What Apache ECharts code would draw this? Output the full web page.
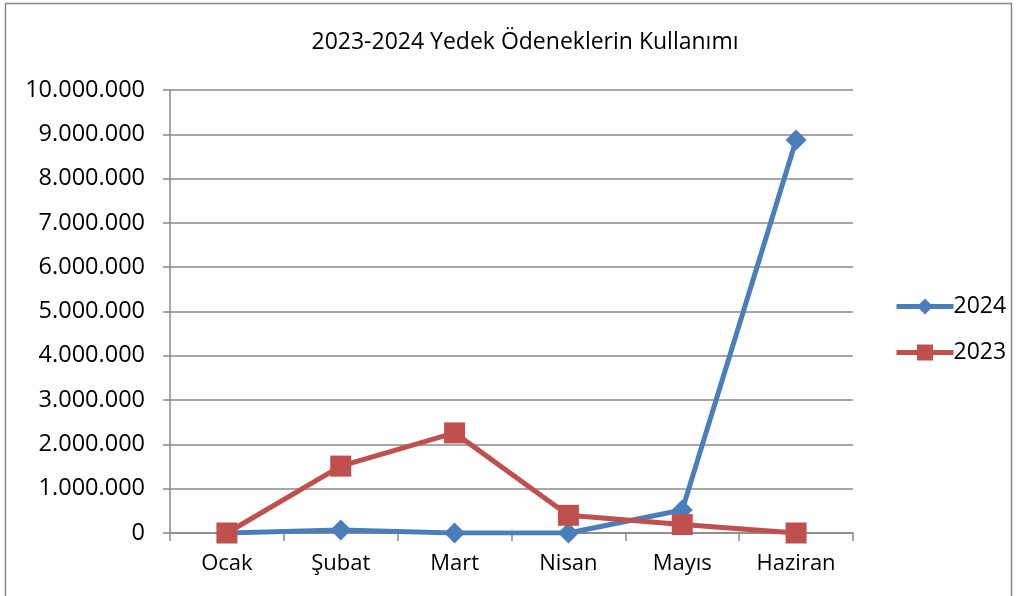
<!DOCTYPE html>
<html>
<head>
<meta charset="utf-8">
<script src="https://cdn.jsdelivr.net/npm/echarts@6/dist/echarts.min.js"></script>
<style>
html, body { margin: 0; padding: 0; background: #fff; }
#chart { width: 1017px; height: 596px; }
</style>
</head>
<body>
<div id="chart"></div>
<script>
const months = ['Ocak', 'Şubat', 'Mart', 'Nisan', 'Mayıs', 'Haziran']
const values2024 = [0, 70000, 0, 0, 520000, 8870000]
const values2023 = [0, 1510000, 2260000, 400000, 190000, 0]

const chart = echarts.init(document.getElementById('chart'))
const font = '"Open Sans", "Noto Sans", sans-serif'
const option = {
  backgroundColor: '#fff',
  title: {
    text: '2023-2024 Yedek Ödeneklerin Kullanımı',
    left: 520,
    top: 26,
    textAlign: 'center',
    textStyle: { fontFamily: font, fontSize: 23, fontWeight: 'normal', color: '#000' }
  },
  graphic: [{
    type: 'rect',
    shape: { x: 5.5, y: 3.5, width: 1006, height: 600 },
    style: { fill: 'none', stroke: '#888', lineWidth: 1.5 },
    silent: true
  }],
  legend: {
    orient: 'vertical',
    left: 889,
    top: 290,
    itemGap: 23,
    itemWidth: 57,
    itemHeight: 20,
    textStyle: { fontFamily: font, fontSize: 23, color: '#000', padding: [0, 0, 0, -5] },
    lineStyle: { width: 5 },
    data: ['2024', '2023']
  },
  grid: { left: 170, right: 164, top: 90, bottom: 63 },
  xAxis: {
    type: 'category',
    data: months,
    boundaryGap: true,
    axisLine: { lineStyle: { color: '#888', width: 1.5 } },
    axisTick: { show: true, length: 8, lineStyle: { color: '#888', width: 1.5 } },
    axisLabel: { fontFamily: font, fontSize: 22, color: '#000', margin: 20 }
  },
  yAxis: {
    type: 'value',
    min: 0,
    max: 10000000,
    interval: 1000000,
    axisLine: { show: true, lineStyle: { color: '#888', width: 1.5 } },
    axisTick: { show: true, length: 7, lineStyle: { color: '#888', width: 1.5 } },
    splitLine: { lineStyle: { color: '#888', width: 1.5 } },
    axisLabel: {
      fontFamily: font,
      fontSize: 23.5,
      color: '#000',
      margin: 25,
      formatter: function(v) {
        return v.toString().replace(/\B(?=(\d{3})+(?!\d))/g, '.')
      }
    }
  },
  series: [
    {
      name: '2024',
      type: 'line',
      data: values2024,
      color: '#4a7ebb',
      symbol: 'diamond',
      symbolSize: 21,
      lineStyle: { width: 5 },
      z: 2
    },
    {
      name: '2023',
      type: 'line',
      data: values2023,
      color: '#c0504d',
      symbol: 'rect',
      symbolSize: 21,
      lineStyle: { width: 5 },
      z: 3
    }
  ]
}
chart.setOption(option)
</script>
</body>
</html>
